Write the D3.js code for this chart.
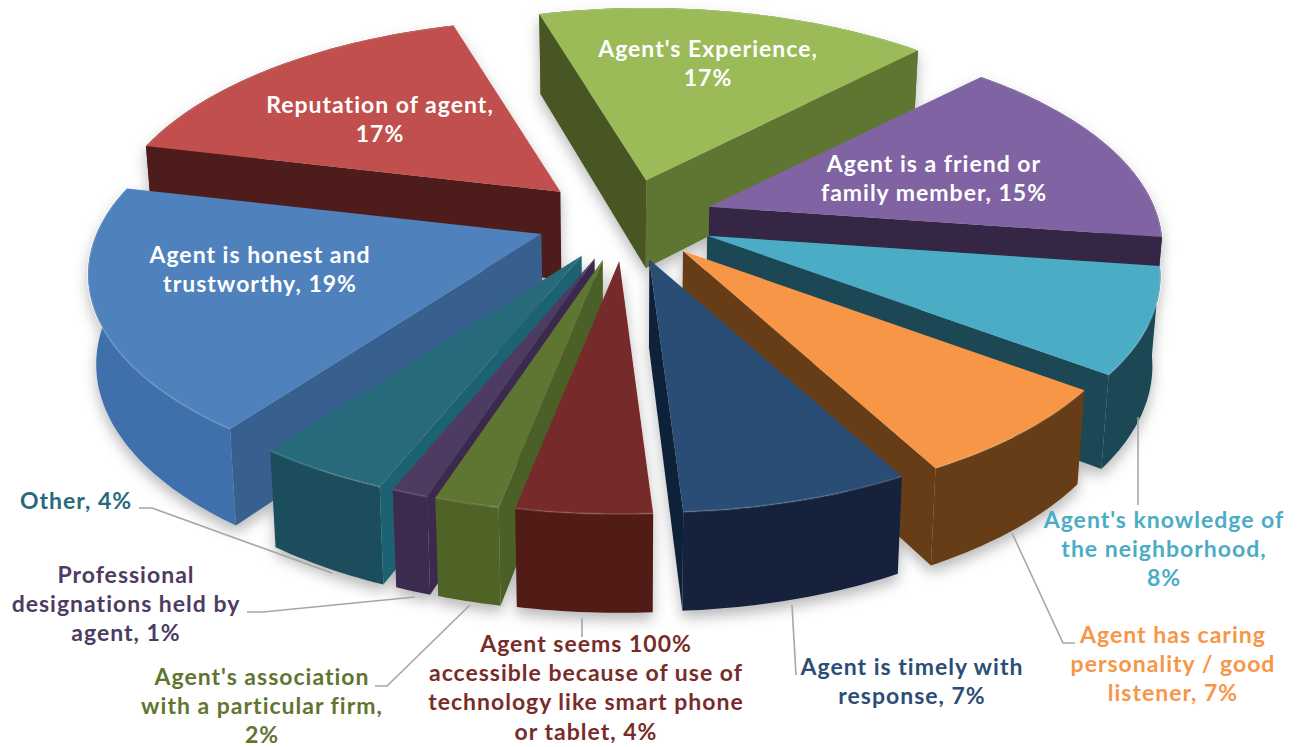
<!DOCTYPE html>
<html><head><meta charset="utf-8">
<script src="https://cdn.jsdelivr.net/npm/d3@7"></script>
<style>html,body{margin:0;background:#fff}svg{display:block}
text{font-family:Lato,sans-serif;font-weight:700;font-size:23px;letter-spacing:1px;text-anchor:middle}</style>
</head><body><script>
// --- data, clockwise from the first slice ---
const categories = ["Agent's Experience","Agent is a friend or family member","Agent's knowledge of the neighborhood","Agent has caring personality / good listener","Agent is timely with response","Agent seems 100% accessible because of use of technology like smart phone or tablet","Agent's association with a particular firm","Professional designations held by agent","Other","Agent is honest and trustworthy","Reputation of agent"];
const shares = [16.8,15.08,7.97,6.9,6.85,4.03,1.94,1.11,4.0,18.64,16.68];
// --- styles ---
const topColors  = ["#9bbb59","#8064a2","#4bacc6","#f79646","#2c4d75","#772c2a","#5f7530","#4d3b62","#276a7c","#4f81bd","#c0504d"];
const rimColors  = ["#5f7530","#352845","#1d4754","#663d18","#12233a","#511b18","#4f6327","#3d2c50","#1c4d5b","#3f70ab","#4f1f1c"];
const startCuts  = ["#465624","#352845","#1d4754","#663d18","#12233a","#511b18","#4c6125","#3a2a4e","#1f6272","#38608f","#4f1f1c"];
const endCuts    = ["#5f7530","#352845","#1d4754","#663d18","#0f2238","#511b18","#4c6125","#3a2a4e","#1f6272","#38608f","#4f1f1c"];
const textColors = ["#fff","#fff","#4bacc6","#f79646","#2c4d75","#772c2a","#5f7530","#4d3b62","#276a7c","#fff","#fff"];
// --- label layout ---
const labelLines = [
 ["Agent's Experience,","{p}"],["Agent is a friend or","family member, {p}"],["Agent's knowledge of","the neighborhood,","{p}"],
 ["Agent has caring","personality / good","listener, {p}"],["Agent is timely with","response, {p}"],
 ["Agent seems 100%","accessible because of use of","technology like smart phone","or tablet, {p}"],
 ["Agent's association","with a particular firm,","{p}"],["Professional","designations held by","agent, {p}"],["Other, {p}"],
 ["Agent is honest and","trustworthy, {p}"],["Reputation of agent,","{p}"]];
const labelX = [708,934,1164,1173,912,586,262,126,76,260,380];
const labelY = [57,172,528,643,675,652,685,583,509,263,113];
const lineStep = 29.2;
const leaders = [null,null,[[1138,417],[1138,505]],[[1012,533],[1063,643],[1075,643]],[[792,605],[796,675]],[[582,618],[582,637]],[[375,686],[387,686],[470,605]],[[247,612],[263,612],[415,597]],[[139,508],[152,508],[332,573]],null,null];
// --- view ---
const W=1301,H=747, cx=625, cy=220, Rx=445, Ry=205, dist=5.26, explode=.2, depth=88, depthPow=.55, converge=.985;
const toRad=Math.PI/180, startDeg=-16.5;

const svg=d3.select("body").append("svg").attr("width",W).attr("height",H);
const defs=svg.append("defs");
const flt=defs.append("filter").attr("id","sh").attr("x","-10%").attr("y","-10%").attr("width","120%").attr("height","125%");
flt.append("feDropShadow").attr("dx",0).attr("dy",7).attr("stdDeviation",7).attr("flood-color","#000").attr("flood-opacity",.28);

const arcs=d3.pie().sort(null).startAngle(startDeg*toRad).endAngle((startDeg+360)*toRad)(shares);
const line=d3.line();
const xS=d3.scaleLinear().domain([-1,1]).range([-Rx,Rx]);
const yS=d3.scaleLinear().domain([-1,1]).range([-Ry,Ry]);
// perspective projection of the unit disc; the explosion is a screen translation
function proj(a,r,mid){
  const Z0=-Math.cos(a)*r, X0=Math.sin(a)*r, s=dist/(dist-Z0);
  const ex=xS(Math.sin(mid)*explode), ey=yS(-Math.cos(mid)*explode);
  return {x:cx+xS(X0)*s+ex, y:cy+yS(Z0)*s+ey, s};
}
const topPt=p=>[p.x,p.y];
const botPt=p=>[cx+(p.x-cx)*converge, p.y+depth*Math.pow(p.s,depthPow)];
const signedArea=pts=>d3.polygonArea(pts);

const pie3d=svg.append("g").attr("filter","url(#sh)");
const midOf=k=>(arcs[k].startAngle+arcs[k].endAngle)/2;
const order=d3.range(arcs.length).sort((i,j)=>(-Math.cos(midOf(i)))-(-Math.cos(midOf(j))));
order.forEach(i=>{
  const d=arcs[i], mid=midOf(i);
  const n=Math.max(4,Math.round((d.endAngle-d.startAngle)/toRad));
  const rim=d3.range(n+1).map(k=>proj(d.startAngle+k/n*(d.endAngle-d.startAngle),1,mid));
  const apex=proj(0,0,mid);
  const sl=pie3d.append("g");
  sl.append("path").attr("d",line([...rim.map(topPt),...rim.slice().reverse().map(botPt)])+"Z").attr("fill",rimColors[i]);
  const c0=[topPt(apex),topPt(rim[0]),botPt(rim[0]),botPt(apex)];
  const c1=[topPt(apex),topPt(rim[n]),botPt(rim[n]),botPt(apex)];
  if(signedArea(c0)>0) sl.append("path").attr("d",line(c0)+"Z").attr("fill",startCuts[i]);
  if(signedArea(c1)<0) sl.append("path").attr("d",line(c1)+"Z").attr("fill",endCuts[i]);
  sl.append("path").attr("d",line([topPt(apex),...rim.map(topPt)])+"Z").attr("fill",topColors[i]);
  sl.append("path").attr("d",line(rim.map(topPt))).attr("fill","none").attr("stroke","#fff").attr("stroke-opacity",.12).attr("stroke-width",2);
});

const lg=svg.append("g");
leaders.forEach(l=>{ if(l) lg.append("path").attr("d",line(l)).attr("fill","none").attr("stroke","#a6a6a6").attr("stroke-width",1.6); });

const tg=svg.append("g");
labelLines.forEach((ls,i)=>{
  const pct=Math.round(shares[i])+"%";
  ls.forEach((t,n)=>tg.append("text").attr("x",labelX[i]).attr("y",labelY[i]+n*lineStep).attr("fill",textColors[i]).text(t.replace("{p}",pct)));
});
</script></body></html>
